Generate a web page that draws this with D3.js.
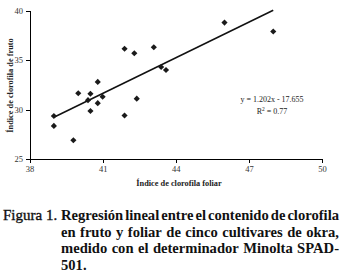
<!DOCTYPE html>
<html lang="es">
<head>
<meta charset="UTF-8">
<title>Figura 1</title>
<script src="https://cdn.jsdelivr.net/npm/d3@7"></script>
<style>
    body { margin: 0; background: #fff; }
    svg { display: block; font-family: "Liberation Serif", "Times New Roman", serif; }
    .axis path, .axis line { stroke: #000; shape-rendering: crispEdges; }
    .axis text { font-size: 8.5px; fill: #333; font-family: "Liberation Serif", serif; }
    .title { font-size: 8.3px; font-weight: bold; fill: #222; }
    .eq { font-size: 8px; fill: #222; }
    .cap { font-size: 14.6px; font-weight: bold; fill: #111; }
</style>
</head>
<body>
<div class="chart"></div>
<script>
// Índice de clorofila foliar (x) y de fruto (y)
var foliar = [39.0, 39.0, 39.8, 40.0, 40.4, 40.5, 40.5, 40.8, 40.8, 41.0,
              41.9, 41.9, 42.3, 42.4, 43.1, 43.4, 43.6, 46.0, 48.0];
var fruto  = [29.35, 28.35, 26.9, 31.65, 30.95, 31.6, 29.85, 32.8, 30.65, 31.3,
              36.15, 29.4, 35.7, 31.1, 36.3, 34.3, 34.0, 38.8, 37.9];

var xTicks = [38, 41, 44, 47, 50];
var yTicks = [25, 30, 35, 40];

// recta de regresión: y = 1.202x - 17.655, R2 = 0.77
var slope = 1.202, intercept = -17.655;
var trendRange = [39, 48];
var eqLines = ["y = 1.202x - 17.655", "R", "2", " = 0.77"];

var captionLabel = "Figura 1.";
var captionLines = [
    "Regresión lineal entre el contenido de clorofila",
    "en fruto y foliar de cinco cultivares de okra,",
    "medido con el determinador Minolta SPAD-",
    "501."
];

var W = 343, H = 278;
var svg = d3.select(".chart").append("svg")
    .attr("width", W)
    .attr("height", H);

var x = d3.scaleLinear().domain([38, 50]).range([29.5, 322]);
var y = d3.scaleLinear().domain([25, 40]).range([159, 10.7]);

// ejes
svg.append("g")
    .attr("class", "axis")
    .attr("transform", "translate(0," + y(25) + ")")
    .call(d3.axisBottom(x).tickValues(xTicks).tickSize(3.5).tickSizeOuter(0).tickPadding(3));

svg.append("g")
    .attr("class", "axis")
    .attr("transform", "translate(" + x(38) + ",0)")
    .call(d3.axisLeft(y).tickValues(yTicks).tickSize(3.5).tickSizeOuter(0).tickPadding(3));

// titulos de ejes
svg.append("text")
    .attr("class", "title")
    .attr("x", 179)
    .attr("y", 186)
    .attr("text-anchor", "middle")
    .text("Índice de clorofila foliar");

svg.append("text")
    .attr("class", "title")
    .attr("transform", "translate(13," + 85.5 + ") rotate(-90)")
    .attr("text-anchor", "middle")
    .text("Índice de clorofila de fruto");

// linea de tendencia
var trend = trendRange.map(function(v) { return [v, slope * v + intercept]; });
svg.append("path")
    .datum(trend)
    .attr("fill", "none")
    .attr("stroke", "#111")
    .attr("stroke-width", 1.5)
    .attr("d", d3.line().x(function(d) { return x(d[0]); }).y(function(d) { return y(d[1]); }));

// puntos
svg.selectAll("path.pt")
    .data(foliar)
    .enter().append("path")
    .attr("class", "pt")
    .attr("transform", function(d, i) { return "translate(" + x(d) + "," + y(fruto[i]) + ")"; })
    .attr("d", d3.symbol().type(d3.symbolDiamond2).size(24))
    .attr("fill", "#1a1a1a");

// ecuacion
svg.append("text")
    .attr("class", "eq")
    .attr("x", 272)
    .attr("y", 101.5)
    .attr("text-anchor", "middle")
    .text(eqLines[0]);

var r2 = svg.append("text")
    .attr("class", "eq")
    .attr("x", 272)
    .attr("y", 113.5)
    .attr("text-anchor", "middle");
r2.append("tspan").text(eqLines[1]);
r2.append("tspan").attr("dy", -3).attr("font-size", "5.5px").text(eqLines[2]);
r2.append("tspan").attr("dy", 3).text(eqLines[3]);

// pie de figura
svg.append("text")
    .attr("x", 3)
    .attr("y", 220)
    .attr("font-size", "15px")
    .attr("fill", "#111")
    .attr("stroke", "#111")
    .attr("stroke-width", 0.35)
    .text(captionLabel);

var left = 61, right = 339, lineH = 16.5;
captionLines.forEach(function(line, li) {
    var words = line.split(" ");
    var by = 220 + li * lineH;
    var nodes = words.map(function(w) {
        return svg.append("text").attr("class", "cap").attr("y", by).text(w);
    });
    var widths = nodes.map(function(n) { return n.node().getComputedTextLength(); });
    var total = d3.sum(widths);
    var last = li === captionLines.length - 1;
    var gap = (words.length > 1 && !last) ? (right - left - total) / (words.length - 1) : 4;
    var cx = left;
    nodes.forEach(function(n, i) {
        n.attr("x", cx);
        cx += widths[i] + gap;
    });
});
</script>
</body>
</html>
